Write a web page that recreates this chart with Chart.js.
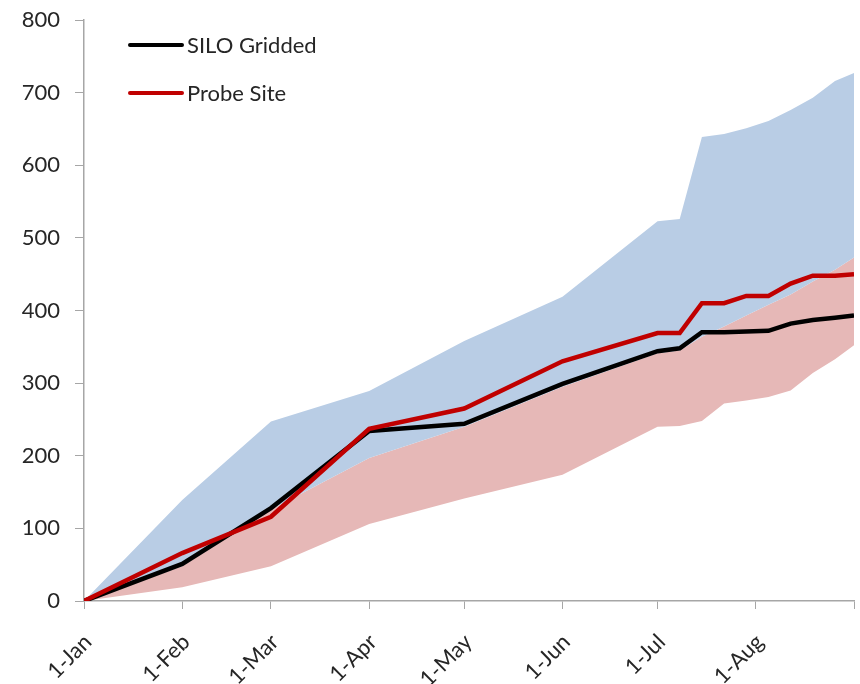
<!DOCTYPE html>
<html>
<head>
<meta charset="utf-8">
<script src="https://cdn.jsdelivr.net/npm/chart.js@4/dist/chart.umd.min.js"></script>
<style>
  html, body { margin: 0; padding: 0; background: #fff; overflow: hidden; }
  #wrap { width: 860px; height: 684px; }
</style>
</head>
<body>
<div id="wrap"><canvas id="myChart" width="860" height="684"></canvas></div>
<script>
"use strict"

// days since 1 Jan
let days = [0, 31, 59, 90, 120, 151, 181, 188, 195, 202, 209, 216, 223, 230, 237, 243];

let siloGridded = [0, 51, 128, 234, 244, 299, 344, 348, 370, 370, 371, 372, 382, 387, 390, 393];
let probeSite = [0, 66, 116, 237, 265, 330, 369, 369, 410, 410, 420, 420, 437, 448, 448, 450];

// shaded ranges
let bandLow = [0, 19, 48, 106, 141, 174, 240, 241, 248, 272, 276, 281, 290, 314, 333, 352];
let bandMid = [0, 48, 126, 197, 240, 295, 341, 345, 364, 378, 393, 408, 422, 440, 456, 473];
let bandHigh = [0, 139, 247, 289, 358, 419, 523, 526, 639, 643, 651, 661, 676, 693, 716, 727];

let monthDays = [0, 31, 59, 90, 120, 151, 181, 212, 243];
let monthLabels = ['1-Jan', '1-Feb', '1-Mar', '1-Apr', '1-May', '1-Jun', '1-Jul', '1-Aug', ''];

const fontName = 'Lato, "Open Sans", sans-serif';
const textColor = '#262626';
const axisColor = '#a6a6a6';

function toPoints(values) {
    return values.map((v, i) => ({ x: days[i], y: v }));
}

// legend drawn inside the plot, top left
const insideLegend = {
    id: 'insideLegend',
    afterDatasetsDraw(chart) {
        const ctx = chart.ctx;
        const items = chart.data.datasets.filter(d => d.showInLegend);
        ctx.save();
        ctx.font = '22px ' + fontName;
        ctx.textBaseline = 'middle';
        items.forEach((d, i) => {
            let y = 45 + i * 48;
            ctx.strokeStyle = d.borderColor;
            ctx.lineWidth = 4;
            ctx.lineCap = 'round';
            ctx.beginPath();
            ctx.moveTo(130, y);
            ctx.lineTo(182, y);
            ctx.stroke();
            ctx.fillStyle = textColor;
            ctx.fillText(d.label, 187, y + 1);
        });
        ctx.restore();
    }
};

const data = {
    datasets: [
        {
            label: 'low',
            data: toPoints(bandLow),
            borderWidth: 0,
            pointRadius: 0,
            fill: false,
            order: 5
        },
        {
            label: 'mid',
            data: toPoints(bandMid),
            borderWidth: 0,
            pointRadius: 0,
            backgroundColor: '#e6b8b7',
            fill: 0,
            order: 4
        },
        {
            label: 'high',
            data: toPoints(bandHigh),
            borderWidth: 0,
            pointRadius: 0,
            backgroundColor: '#b9cde5',
            fill: 1,
            order: 3
        },
        {
            label: 'SILO Gridded',
            showInLegend: true,
            data: toPoints(siloGridded),
            borderColor: '#000000',
            borderWidth: 4.5,
            pointRadius: 0,
            fill: false,
            order: 2
        },
        {
            label: 'Probe Site',
            showInLegend: true,
            data: toPoints(probeSite),
            borderColor: '#c00000',
            borderWidth: 4.5,
            pointRadius: 0,
            fill: false,
            order: 1
        }
    ]
};

const config = {
    type: 'line',
    data: data,
    options: {
        responsive: false,
        animation: false,
        layout: { padding: { top: 20, right: 6, left: 0, bottom: 0 } },
        plugins: {
            legend: { display: false },
            tooltip: { enabled: false }
        },
        scales: {
            x: {
                type: 'linear',
                min: 0,
                max: 243,
                afterBuildTicks: scale => {
                    scale.ticks = monthDays.map(v => ({ value: v }));
                },
                afterFit: scale => {
                    scale.height = 83;
                    scale.paddingLeft = 0;
                    scale.paddingRight = 0;
                },
                ticks: {
                    callback: (value) => monthLabels[monthDays.indexOf(value)],
                    minRotation: 45,
                    maxRotation: 45,
                    autoSkip: false,
                    padding: 20,
                    labelOffset: 4,
                    color: textColor,
                    font: { family: fontName, size: 22 }
                },
                grid: {
                    display: true,
                    drawOnChartArea: false,
                    tickLength: 8,
                    color: axisColor
                },
                border: { color: axisColor, width: 1.5 }
            },
            y: {
                min: 0,
                max: 800,
                afterFit: scale => {
                    scale.width = 84;
                    scale.paddingTop = 0;
                    scale.paddingBottom = 0;
                },
                ticks: {
                    stepSize: 100,
                    padding: 15,
                    color: textColor,
                    font: { family: fontName, size: 22 }
                },
                grid: {
                    display: true,
                    drawOnChartArea: false,
                    tickLength: 9,
                    color: axisColor
                },
                border: { color: axisColor, width: 1.5 }
            }
        }
    },
    plugins: [insideLegend]
};

let canvasChart = document.getElementById('myChart');
const myChart = new Chart(canvasChart, config);
</script>
</body>
</html>
